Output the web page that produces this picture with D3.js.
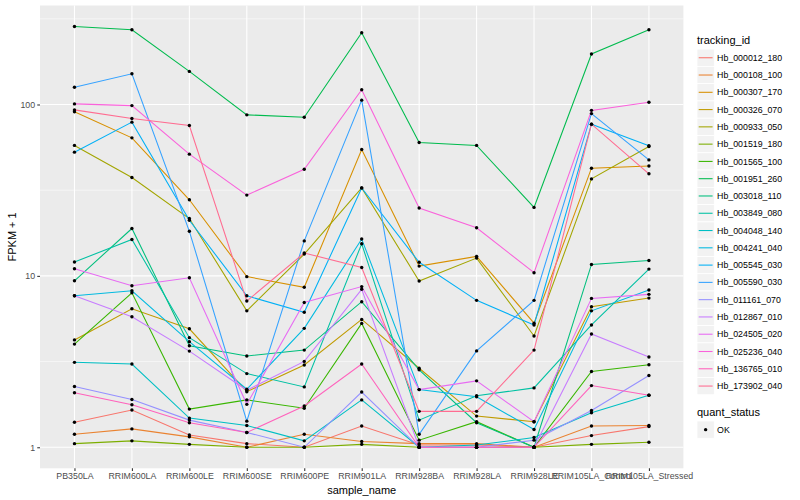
<!DOCTYPE html>
<html><head><meta charset="utf-8">
<script src="https://cdn.jsdelivr.net/npm/d3@7"></script>
<style>body{margin:0;background:#fff}svg{display:block}text{font-family:"Liberation Sans",Arial,Helvetica,sans-serif}</style>
</head><body><svg id="c" width="800" height="500"></svg>
<script>
const categories = ["PB350LA","RRIM600LA","RRIM600LE","RRIM600SE","RRIM600PE","RRIM901LA","RRIM928BA","RRIM928LA","RRIM928LE","RRIM105LA_Control","RRIM105LA_Stressed"];
const trackingIds = ["Hb_000012_180","Hb_000108_100","Hb_000307_170","Hb_000326_070","Hb_000933_050","Hb_001519_180","Hb_001565_100","Hb_001951_260","Hb_003018_110","Hb_003849_080","Hb_004048_140","Hb_004241_040","Hb_005545_030","Hb_005590_030","Hb_011161_070","Hb_012867_010","Hb_024505_020","Hb_025236_040","Hb_136765_010","Hb_173902_040"];
const colors = ["#F8766D","#EA8331","#D89000","#C09B00","#A3A500","#7CAE00","#39B600","#00BB4E","#00BF7D","#00C1A3","#00BFC4","#00BAE0","#00B0F6","#35A2FF","#9590FF","#C77CFF","#E76BF3","#FA62DB","#FF62BC","#FF6C91"];
const yTicks = [1, 10, 100];
const quantStatus = ["OK"];

// FPKM + 1 per series, in category order
const Hb_000012_180 = [1.40, 1.65, 1.18, 1.05, 1.0, 1.33, 1.03, 1.03, 1.0, 1.17, 1.32];
const Hb_000108_100 = [1.19, 1.28, 1.15, 1.0, 1.19, 1.08, 1.05, 1.05, 1.0, 1.33, 1.34];
const Hb_000307_170 = [90.6, 63.9, 27.8, 9.9, 8.58, 54.6, 11.4, 13.0, 5.3, 42.5, 43.8];
const Hb_000326_070 = [4.23, 6.43, 4.91, 2.11, 3.02, 5.57, 2.89, 1.52, 1.41, 6.61, 7.42];
const Hb_000933_050 = [57.7, 37.5, 21.6, 6.25, 13.4, 32.6, 9.33, 12.7, 4.46, 36.8, 56.9];
const Hb_001519_180 = [1.05, 1.09, 1.04, 1.0, 1.0, 1.04, 1.0, 1.0, 1.0, 1.04, 1.07];
const Hb_001565_100 = [4.0, 7.96, 1.67, 1.89, 1.69, 5.28, 1.10, 1.41, 1.0, 2.77, 3.03];
const Hb_001951_260 = [285, 273, 156, 87, 84.3, 262, 60, 57.7, 25.1, 197, 273];
const Hb_003018_110 = [9.36, 18.9, 3.91, 3.41, 3.69, 7.07, 2.83, 1.39, 1.0, 11.66, 12.3];
const Hb_003849_080 = [12.05, 16.3, 4.36, 2.69, 2.25, 15.4, 1.44, 2.0, 2.22, 5.17, 10.95];
const Hb_004048_140 = [3.13, 3.06, 1.48, 1.34, 1.09, 1.89, 1.0, 1.03, 1.14, 1.59, 2.01];
const Hb_004241_040 = [7.65, 8.19, 4.13, 2.18, 4.94, 16.4, 2.17, 1.97, 1.27, 6.25, 8.27];
const Hb_005545_030 = [52.7, 78.9, 21.1, 7.65, 6.13, 32.6, 12.0, 7.2, 5.17, 76.8, 57.4];
const Hb_005590_030 = [126, 151, 18.2, 1.42, 16.0, 106, 1.19, 3.65, 7.2, 88.5, 47.5];
const Hb_011161_070 = [2.26, 1.90, 1.44, 1.22, 1.0, 2.10, 1.0, 1.0, 1.10, 1.64, 2.62];
const Hb_012867_010 = [7.65, 5.78, 3.64, 2.15, 3.17, 8.35, 1.0, 1.0, 1.0, 4.58, 3.36];
const Hb_024505_020 = [11.0, 8.75, 9.75, 1.78, 7.0, 8.66, 2.17, 2.44, 1.41, 7.39, 7.80];
const Hb_025236_040 = [100.8, 98.5, 51.3, 29.6, 41.9, 122, 24.9, 19.1, 10.43, 92.4, 103];
const Hb_136765_010 = [2.08, 1.77, 1.39, 1.22, 1.74, 3.06, 1.0, 1.0, 1.0, 2.29, 2.01];
const Hb_173902_040 = [93, 82.8, 75.4, 7.13, 13.6, 11.2, 1.62, 1.62, 3.69, 76.8, 39.4];

const seriesValues = [Hb_000012_180,Hb_000108_100,Hb_000307_170,Hb_000326_070,Hb_000933_050,Hb_001519_180,Hb_001565_100,Hb_001951_260,Hb_003018_110,Hb_003849_080,Hb_004048_140,Hb_004241_040,Hb_005545_030,Hb_005590_030,Hb_011161_070,Hb_012867_010,Hb_024505_020,Hb_025236_040,Hb_136765_010,Hb_173902_040];
const series = trackingIds.map((id, i) => ({id, color: colors[i], values: seriesValues[i].map((v, j) => ({cat: categories[j], v}))}));

const svg = d3.select("#c");
const P = {l: 40, r: 683.4, t: 5.5, b: 468.3};
const all = seriesValues.flat();
const lmin = Math.log10(d3.min(all)), lmax = Math.log10(d3.max(all));
const ex = (lmax - lmin) * 0.05;
const y = d3.scaleLog().domain([Math.pow(10, lmin - ex), Math.pow(10, lmax + ex)]).range([P.b, P.t]);
const x = d3.scalePoint().domain(categories).range([P.l, P.r]).padding(0.6);

// panel
svg.append("rect").attr("x", P.l).attr("y", P.t).attr("width", P.r - P.l).attr("height", P.b - P.t).attr("fill", "#EBEBEB");
const g = svg.append("g");
// minor grid
[0.5, 1.5, 2.5].map(e => Math.pow(10, e)).filter(v => v >= y.domain()[0] && v <= y.domain()[1]).forEach(v => {
  g.append("line").attr("x1", P.l).attr("x2", P.r).attr("y1", y(v)).attr("y2", y(v)).attr("stroke", "#fff").attr("stroke-width", 0.53);
});
yTicks.forEach(v => {
  g.append("line").attr("x1", P.l).attr("x2", P.r).attr("y1", y(v)).attr("y2", y(v)).attr("stroke", "#fff").attr("stroke-width", 1.07);
});
categories.forEach(c => {
  g.append("line").attr("x1", x(c)).attr("x2", x(c)).attr("y1", P.t).attr("y2", P.b).attr("stroke", "#fff").attr("stroke-width", 1.07);
});

// lines
const line = d3.line().x(d => x(d.cat)).y(d => y(d.v));
series.forEach(s => {
  svg.append("path").datum(s.values).attr("d", line).attr("fill", "none").attr("stroke", s.color).attr("stroke-width", 1.07);
});
// points
series.forEach(s => {
  svg.append("g").selectAll("circle").data(s.values).join("circle")
    .attr("cx", d => x(d.cat)).attr("cy", d => y(d.v)).attr("r", 1.7).attr("fill", "#000");
});

// axes
const yAxis = d3.axisLeft(y).tickValues(yTicks).tickFormat(d3.format("d")).tickSize(2.75).tickPadding(2.2);
const ya = svg.append("g").attr("transform", `translate(${P.l},0)`).call(yAxis);
ya.select(".domain").remove();
ya.selectAll("line").attr("stroke", "#333333").attr("stroke-width", 1.07);
ya.selectAll("text").attr("fill", "#4D4D4D").style("font-size", "8.8px");
const xAxis = d3.axisBottom(x).tickSize(2.75).tickPadding(2.2);
const xa = svg.append("g").attr("transform", `translate(0,${P.b})`).call(xAxis);
xa.select(".domain").remove();
xa.selectAll("line").attr("stroke", "#333333").attr("stroke-width", 1.07);
xa.selectAll("text").attr("fill", "#4D4D4D").style("font-size", "8.8px");

svg.append("text").attr("x", (P.l + P.r) / 2).attr("y", 494).attr("text-anchor", "middle").style("font-size", "11px").attr("fill", "#000").text("sample_name");
svg.append("text").attr("transform", `translate(16,${(P.t + P.b) / 2}) rotate(-90)`).attr("text-anchor", "middle").style("font-size", "11px").attr("fill", "#000").text("FPKM + 1");

// legend
const lx = 697, ky0 = 49.1, kh = 17.28;
svg.append("text").attr("x", lx).attr("y", 44).style("font-size", "11px").attr("fill", "#000").text("tracking_id");
series.forEach((s, i) => {
  const yy = ky0 + i * kh;
  svg.append("rect").attr("x", lx).attr("y", yy).attr("width", kh).attr("height", kh).attr("fill", "#F2F2F2").attr("stroke", "#fff").attr("stroke-width", 0.8);
  svg.append("line").attr("x1", lx + 1.7).attr("x2", lx + kh - 1.7).attr("y1", yy + kh / 2).attr("y2", yy + kh / 2).attr("stroke", s.color).attr("stroke-width", 1.07);
  svg.append("text").attr("x", lx + kh + 2.8).attr("y", yy + kh / 2 + 3.1).style("font-size", "8.8px").attr("fill", "#000").text(s.id);
});
svg.append("text").attr("x", lx).attr("y", 416).style("font-size", "11px").attr("fill", "#000").text("quant_status");
quantStatus.forEach((q, i) => {
  const yy = 421 + i * kh;
  svg.append("rect").attr("x", lx).attr("y", yy).attr("width", kh).attr("height", kh).attr("fill", "#F2F2F2").attr("stroke", "#fff").attr("stroke-width", 0.8);
  svg.append("circle").attr("cx", lx + kh / 2).attr("cy", yy + kh / 2).attr("r", 1.7).attr("fill", "#000");
  svg.append("text").attr("x", lx + kh + 2.8).attr("y", yy + kh / 2 + 3.1).style("font-size", "8.8px").attr("fill", "#000").text(q);
});
</script></body></html>
